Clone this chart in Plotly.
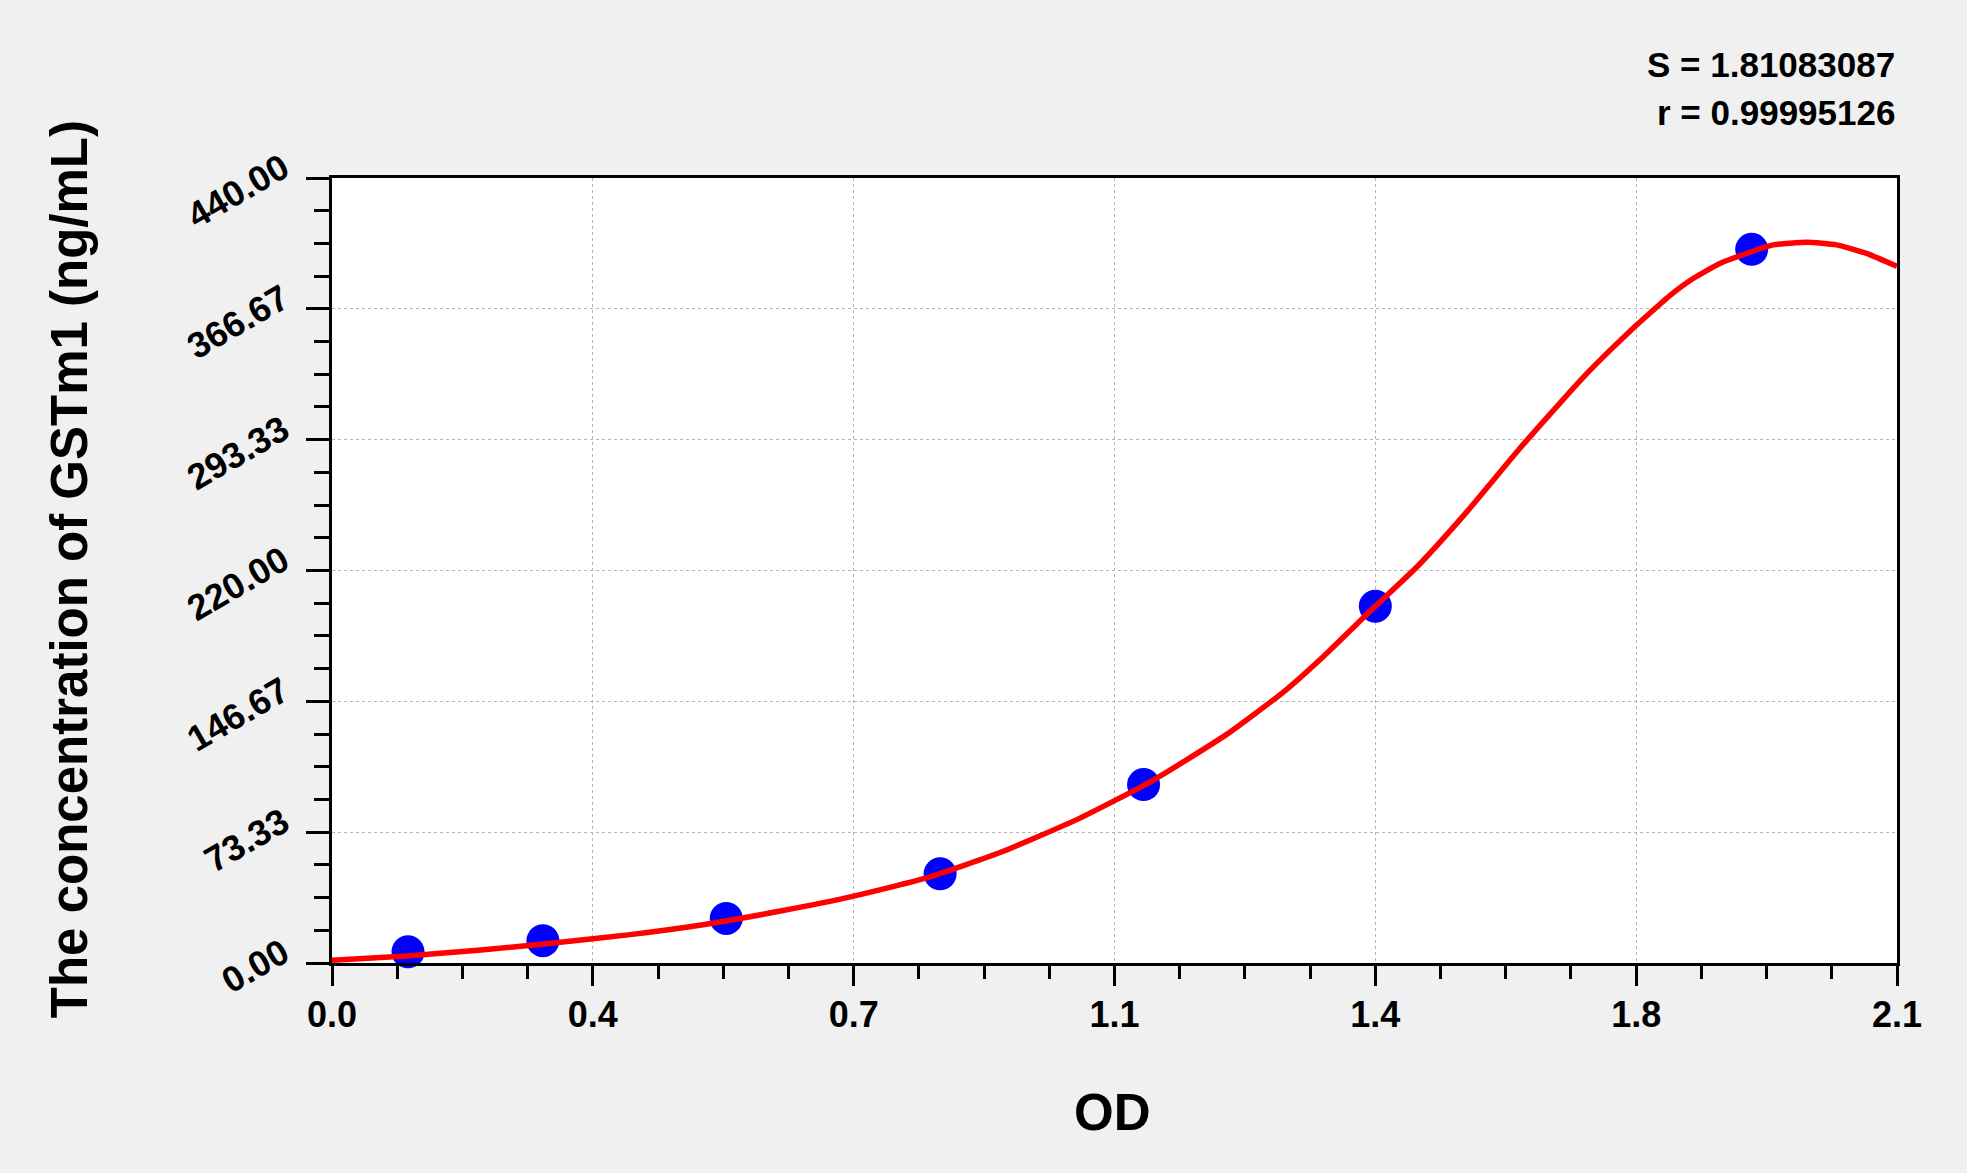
import plotly.graph_objects as go

# Standard points (OD vs concentration)
std_od = [0.102, 0.283, 0.529, 0.816, 1.089, 1.400, 1.905]
std_conc = [6.25, 12.5, 25, 50, 100, 200, 400]

# Fitted curve
curve_od = [0.00, 0.10, 0.20, 0.30, 0.40, 0.50, 0.60, 0.70, 0.80, 0.90, 1.00,
            1.10, 1.20, 1.277, 1.33, 1.397, 1.456, 1.523, 1.594, 1.648, 1.684,
            1.72, 1.749, 1.769, 1.796, 1.827, 1.863, 1.905, 1.934, 1.979,
            2.019, 2.059, 2.10]
curve_conc = [1.5, 3.9, 7.3, 11.3, 15.9, 21.6, 29.0, 37.5, 48.0, 62.5, 80.5,
              102.0, 128.0, 152.0, 171.7, 198.8, 222.1, 253.0, 288.5, 314.0, 330.5,
              345.5, 357.0, 364.5, 374.4, 383.8, 392.2, 398.7, 402.5, 404.0,
              402.5, 397.8, 390.5]

x_tickvals = [0.0, 0.35, 0.70, 1.05, 1.40, 1.75, 2.10]
x_ticktext = ["0.0", "0.4", "0.7", "1.1", "1.4", "1.8", "2.1"]
y_tickvals = [0.0, 73.33, 146.67, 220.0, 293.33, 366.67, 440.0]
y_ticktext = ["0.00", "73.33", "146.67", "220.00", "293.33", "366.67", "440.00"]

x_title = "OD"
y_title = "The concentration of GSTm1 (ng/mL)"
stats_lines = ["S = 1.81083087", "r = 0.99995126"]

FONT = "Liberation Sans, Arial, sans-serif"

fig = go.Figure()
fig.add_trace(go.Scatter(
    x=std_od, y=std_conc, mode="markers",
    marker=dict(color="#0000ff", size=33, line=dict(width=0)),
    showlegend=False, cliponaxis=False))
fig.add_trace(go.Scatter(
    x=curve_od, y=curve_conc, mode="lines",
    line=dict(color="#ff0000", width=5.5, shape="spline", smoothing=0.5),
    showlegend=False))

axis_common = dict(
    showline=True, linecolor="black", linewidth=3, mirror=True,
    ticks="outside", tickcolor="black", tickwidth=3,
    showgrid=True, gridcolor="#b4b4b4", gridwidth=1, griddash="dot",
    zeroline=False,
    tickfont=dict(family=FONT, size=36, color="black", weight="bold"),
)

fig.update_xaxes(
    **axis_common,
    range=[0, 2.1], tickmode="array", tickvals=x_tickvals, ticktext=x_ticktext,
    ticklen=20, ticklabelstandoff=-2,
    minor=dict(ticks="outside", dtick=0.0875, tick0=0, ticklen=13, tickwidth=3,
               tickcolor="black", showgrid=False),
)
fig.update_yaxes(
    **axis_common,
    range=[0, 440], tickmode="array", tickvals=y_tickvals, ticktext=y_ticktext,
    ticklen=23, tickangle=-30, ticklabelstandoff=16, ticklabelshift=-14,
    minor=dict(ticks="outside", dtick=440 / 24, tick0=0, ticklen=15, tickwidth=3,
               tickcolor="black", showgrid=False),
)

title_font = dict(family=FONT, size=51, color="black", weight="bold")
fig.add_annotation(text=x_title, xref="paper", yref="paper", x=0.4985, y=-0.1904,
                   xanchor="center", yanchor="middle", showarrow=False,
                   font=title_font)
fig.add_annotation(text=y_title, xref="paper", yref="paper", x=-0.1676, y=0.5013,
                   xanchor="center", yanchor="middle", showarrow=False,
                   textangle=-90, font=title_font)

for txt, yy in zip(stats_lines, [1.1446, 1.0834]):
    fig.add_annotation(
        text=txt, xref="paper", yref="paper", x=1.0, y=yy,
        xanchor="right", yanchor="middle", showarrow=False,
        font=dict(family=FONT, size=35, color="black", weight="bold"))

fig.update_layout(
    width=1967, height=1173,
    margin=dict(l=332, r=70, t=178, b=210, autoexpand=False),
    paper_bgcolor="#f0f0f0", plot_bgcolor="white",
)

fig.write_html("out.html", config={"displayModeBar": False},
               post_script="document.body.style.margin='0';document.body.style.overflow='hidden';")
